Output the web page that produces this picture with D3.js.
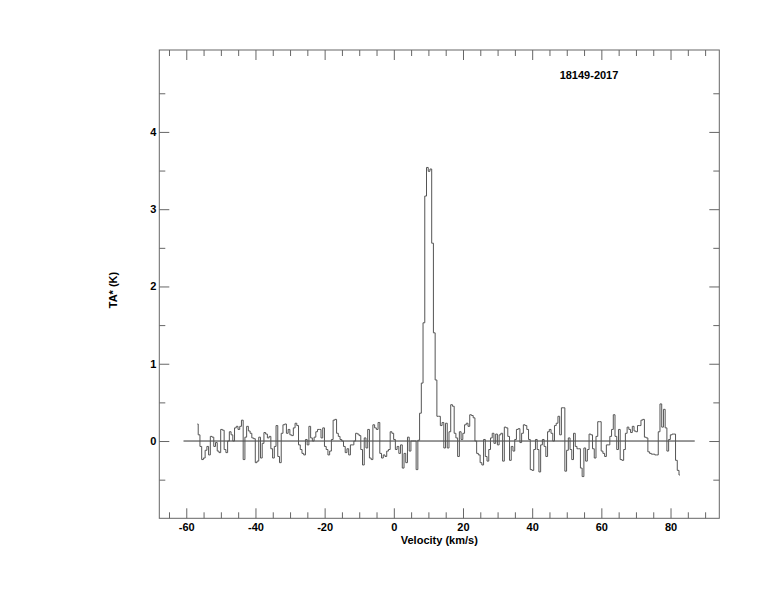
<!DOCTYPE html>
<html>
<head>
<meta charset="utf-8">
<script src="https://cdn.jsdelivr.net/npm/d3@7"></script>
<style>
  body { margin: 0; background: #fff; }
  svg text { font-family: "Liberation Sans", Arial, Helvetica, sans-serif; font-weight: bold; font-size: 11px; fill: #000; }
</style>
</head>
<body>
<div id="chart"></div>
<script>

// spectrum: channel start velocity and channel width (km/s)
var chanStart = -56.8
var chanWidth = 0.5

// antenna temperature per channel (K)
var tempValues = [
  0.22, 0.08, -0.07, -0.24, -0.22, -0.12, -0.07, -0.18, 0.06, 0.05,
  -0.07, -0.02, -0.13, -0.15, 0.15, 0.14, -0.11, -0.15, 0.00, 0.12,
  0.08, 0.00, 0.17, 0.19, 0.15, 0.19, 0.27, -0.24, 0.05, 0.19,
  0.13, 0.10, 0.04, 0.03, -0.28, -0.26, 0.05, -0.22, -0.03, 0.11,
  0.09, 0.04, 0.06, -0.10, -0.22, -0.07, 0.20, -0.20, -0.28, 0.10,
  0.21, 0.22, 0.10, 0.15, 0.08, 0.07, 0.17, 0.23, 0.20, -0.05,
  -0.11, -0.16, -0.18, 0.02, -0.05, 0.19, 0.04, 0.00, 0.05, 0.12,
  0.15, 0.15, 0.04, 0.17, -0.07, -0.11, -0.18, -0.13, 0.02, 0.27,
  0.28, 0.10, 0.06, 0.02, 0.00, -0.07, -0.15, -0.10, -0.18, -0.05,
  -0.05, 0.00, 0.10, 0.09, 0.07, -0.11, -0.31, 0.04, -0.09, 0.15,
  -0.22, -0.24, 0.21, 0.17, 0.15, 0.24, -0.16, -0.22, -0.18, -0.20,
  -0.13, -0.11, 0.12, 0.10, 0.02, -0.11, -0.07, -0.16, -0.05, -0.35,
  -0.16, -0.28, 0.05, -0.13, 0.00, 0.00, 0.00, -0.37, 0.01, 0.36,
  0.75, 1.53, 3.17, 3.54, 3.49, 3.52, 2.56, 1.40, 0.79, 0.32,
  0.32, 0.20, 0.24, -0.09, 0.23, -0.09, 0.12, 0.47, 0.45, 0.10,
  0.04, -0.20, 0.12, 0.02, 0.10, 0.21, 0.23, 0.19, 0.34, 0.33,
  0.30, 0.00, -0.16, -0.18, -0.28, -0.31, 0.02, -0.20, -0.26, -0.11,
  0.04, 0.10, -0.03, 0.09, -0.05, 0.08, 0.10, -0.26, 0.18, 0.17,
  0.06, -0.25, -0.07, -0.13, 0.02, 0.15, 0.16, -0.02, 0.10, 0.21,
  0.20, 0.15, 0.02, -0.37, -0.38, -0.11, 0.02, -0.11, -0.40, -0.05,
  0.02, -0.07, -0.20, 0.12, 0.15, 0.10, 0.00, 0.20, 0.23, 0.32,
  0.08, 0.43, 0.43, -0.39, -0.12, 0.04, -0.11, -0.24, 0.10, -0.07,
  -0.10, -0.10, -0.35, -0.46, -0.09, -0.26, -0.11, 0.09, 0.08, -0.10,
  -0.22, 0.06, 0.25, 0.25, -0.13, -0.16, -0.20, -0.05, -0.05, 0.06,
  0.15, 0.34, 0.06, -0.11, 0.15, -0.24, -0.25, -0.11, 0.10, 0.18,
  0.15, 0.11, 0.19, 0.13, 0.12, 0.20, 0.20, 0.27, 0.28, 0.05,
  0.04, -0.14, -0.16, -0.17, -0.17, -0.18, -0.18, 0.12, 0.48, 0.18,
  0.41, 0.17, -0.13, 0.02, 0.08, 0.09, 0.09, -0.25, -0.38, -0.44
]

// zero baseline extent (km/s)
var baseline = [-60.8, 87]

var xMajorTicks = [-60, -40, -20, 0, 20, 40, 60, 80]
var yMajorTicks = [0, 1, 2, 3, 4]

var title = '18149-2017'
var xTitle = 'Velocity (km/s)'
var yTitle = 'TA* (K)'

function makeSpectrum(container) {

	var frame = { left: 159.3, right: 719.3, top: 50, bottom: 518.3 }

	var xScale = d3.scaleLinear()
		.domain([-67.8, 94.1])
		.range([frame.left, frame.right])

	var yScale = d3.scaleLinear()
		.domain([-1, 5.06])
		.range([frame.bottom, frame.top])

	var xMinor = d3.range(-65, 95, 5).filter(function(v) { return xMajorTicks.indexOf(v) < 0 })
	var yMinor = d3.range(-0.5, 5, 1)

	var svg = d3.select(container).append('svg')
		.attr('width', 774)
		.attr('height', 612)

	var fmt = function(d) { return String(d) }

	// bottom axis, ticks inward
	svg.append('g')
		.attr('class', 'x axis')
		.attr('transform', 'translate(0,' + frame.bottom + ')')
		.call(d3.axisBottom(xScale).tickValues(xMajorTicks).tickSize(-10).tickPadding(5).tickFormat(fmt))
	svg.append('g')
		.attr('transform', 'translate(0,' + frame.bottom + ')')
		.call(d3.axisBottom(xScale).tickValues(xMinor).tickSize(-6).tickFormat(''))
	// top axis
	svg.append('g')
		.attr('transform', 'translate(0,' + frame.top + ')')
		.call(d3.axisTop(xScale).tickValues(xMajorTicks).tickSize(-10).tickFormat(''))
	svg.append('g')
		.attr('transform', 'translate(0,' + frame.top + ')')
		.call(d3.axisTop(xScale).tickValues(xMinor).tickSize(-6).tickFormat(''))
	// left axis
	svg.append('g')
		.attr('class', 'y axis')
		.attr('transform', 'translate(' + frame.left + ',0)')
		.call(d3.axisLeft(yScale).tickValues(yMajorTicks).tickSize(-10).tickPadding(3).tickFormat(fmt))
	svg.append('g')
		.attr('transform', 'translate(' + frame.left + ',0)')
		.call(d3.axisLeft(yScale).tickValues(yMinor).tickSize(-6).tickFormat(''))
	// right axis
	svg.append('g')
		.attr('transform', 'translate(' + frame.right + ',0)')
		.call(d3.axisRight(yScale).tickValues(yMajorTicks).tickSize(-10).tickFormat(''))
	svg.append('g')
		.attr('transform', 'translate(' + frame.right + ',0)')
		.call(d3.axisRight(yScale).tickValues(yMinor).tickSize(-6).tickFormat(''))

	svg.selectAll('.domain').remove()
	svg.selectAll('.tick line').attr('stroke', '#666')
	svg.selectAll('.tick text')
		.style('font-family', '"Liberation Sans", Arial, sans-serif')
		.style('font-weight', 'bold')
		.style('font-size', '11px')
		.attr('fill', '#000')

	svg.append('rect')
		.attr('x', frame.left)
		.attr('y', frame.top)
		.attr('width', frame.right - frame.left)
		.attr('height', frame.bottom - frame.top)
		.attr('fill', 'none')
		.attr('stroke', '#666')
		.attr('stroke-width', 1)

	// zero line
	svg.append('line')
		.attr('x1', xScale(baseline[0]))
		.attr('x2', xScale(baseline[1]))
		.attr('y1', yScale(0))
		.attr('y2', yScale(0))
		.attr('stroke', '#333')
		.attr('stroke-width', 1)

	var spectrum = tempValues.map(function(t, i) {
		return { v: chanStart + i * chanWidth, t: t }
	})

	var line = d3.line()
		.x(function(d) { return xScale(d.v) })
		.y(function(d) { return yScale(d.t) })
		.curve(d3.curveStep)

	svg.append('path')
		.datum(spectrum)
		.attr('d', line)
		.attr('fill', 'none')
		.attr('stroke', '#555')
		.attr('stroke-width', 1)

	svg.append('text')
		.attr('x', (frame.left + frame.right) / 2)
		.attr('y', 544)
		.attr('text-anchor', 'middle')
		.text(xTitle)

	svg.append('text')
		.attr('transform', 'translate(117,290) rotate(-90)')
		.attr('text-anchor', 'middle')
		.text(yTitle)

	svg.append('text')
		.attr('x', 589)
		.attr('y', 79)
		.attr('text-anchor', 'middle')
		.text(title)
}

makeSpectrum(document.getElementById('chart'))
</script>
</body>
</html>
